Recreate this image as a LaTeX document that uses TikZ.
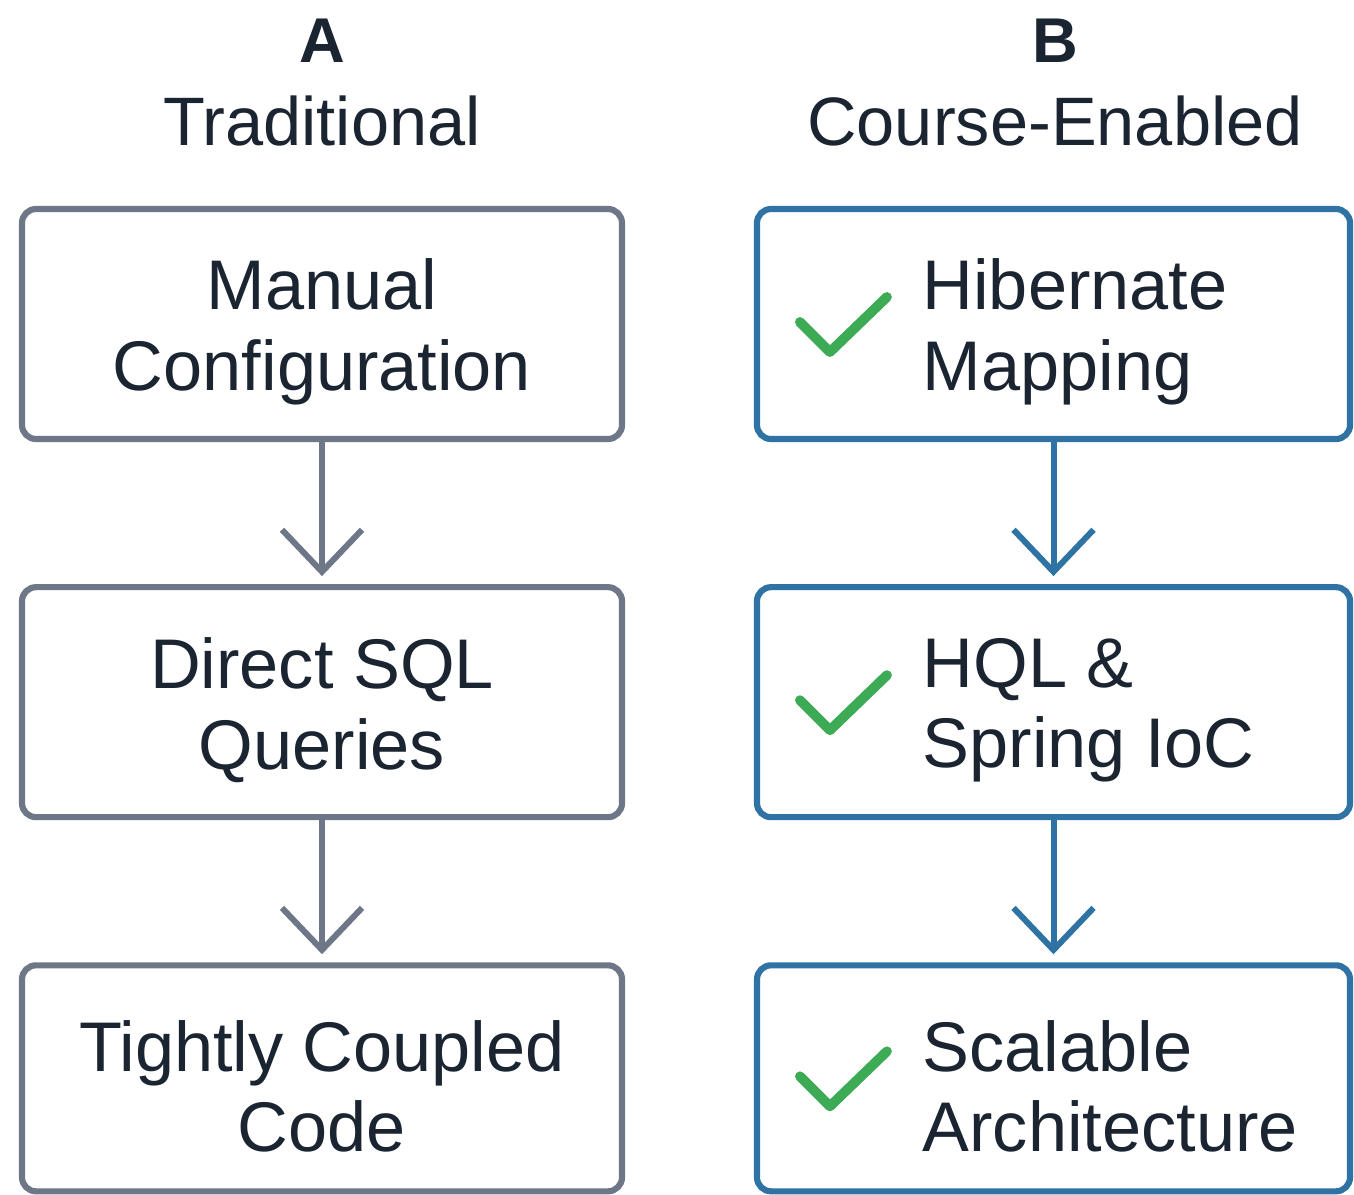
\documentclass[tikz,border=0pt]{standalone}
\usepackage{fontspec}
\setmainfont{Liberation Sans}
\usetikzlibrary{positioning}
\usetikzlibrary{arrows.meta}

\definecolor{tinta}{HTML}{1B2431}
\definecolor{grisA}{HTML}{6E7787}
\definecolor{azulB}{HTML}{2F72A4}
\definecolor{verde}{HTML}{3DAA55}

\begin{document}
\begin{tikzpicture}[
  caja/.style={draw, line width=1.75pt, rounded corners=0.14cm, fill=white, minimum height=2.3cm},
  cajaA/.style={caja, draw=grisA, minimum width=6cm},
  cajaB/.style={caja, draw=azulB, minimum width=5.93cm},
  texto/.style={text=tinta, align=left, inner sep=0pt, yshift=-0.08cm, font=\fontsize{20}{23}\selectfont},
  titulo/.style={text=tinta, anchor=base, inner sep=0pt, font=\fontsize{19.5}{22}\selectfont},
  letra/.style={text=tinta, anchor=base, inner sep=0pt, font=\fontsize{18}{20}\bfseries},
  flecha/.style={line width=1.7pt, -{Straight Barb[length=0.42cm, width=0.8cm]}, shorten >=0.08cm},
  check/.style={verde, line width=2.8pt, line cap=round, line join=round}
]

  \useasboundingbox[fill=white] (0,0) rectangle (13.54,-11.94); % Marco de la figura

  % Columna A
  \node[letra] (letA) at (3.22,-0.62) {A};
  \node[titulo] (titA) at (3.22,-1.45) {Traditional};
  \node[cajaA] (man) at (3.22,-3.24) {};
  \node[cajaA, below=1.42cm of man] (sql) {};
  \node[cajaA, below=1.42cm of sql, minimum height=2.26cm] (tight) {};

  \node[texto, align=center] (mantxt) at (man) {Manual\\Configuration};
  \node[texto, align=center] (sqltxt) at (sql) {Direct SQL\\Queries};
  \node[texto, align=center] (tighttxt) at (tight) {Tightly Coupled\\Code};

  \draw[flecha, grisA] (man) -- (sql); % Paso 1 a 2
  \draw[flecha, grisA] (sql) -- (tight); % Paso 2 a 3

  % Columna B
  \node[letra] (letB) at (10.55,-0.62) {B};
  \node[titulo] (titB) at (10.55,-1.45) {Course-Enabled};
  \node[cajaB] (hib) at (10.535,-3.24) {};
  \node[cajaB, below=1.42cm of hib] (hql) {};
  \node[cajaB, below=1.42cm of hql, minimum height=2.26cm] (scal) {};

  \node[texto, right=1.68cm of hib.west] (hibtxt) {Hibernate\\Mapping};
  \node[texto, right=1.68cm of hql.west] (hqltxt) {HQL \&\\Spring IoC};
  \node[texto, right=1.68cm of scal.west] (scaltxt) {Scalable\\Architecture};

  \draw[flecha, azulB] (hib) -- (hql); % Paso 1 a 2
  \draw[flecha, azulB] (hql) -- (scal); % Paso 2 a 3

  % Marcas de verificación
  \draw[check, shift={(hib.west)}] (0.46,0.02) -- (0.76,-0.28) -- (1.33,0.27);
  \draw[check, shift={(hql.west)}] (0.46,0.02) -- (0.76,-0.28) -- (1.33,0.27);
  \draw[check, shift={(scal.west)}] (0.46,0.02) -- (0.76,-0.28) -- (1.33,0.27);

\end{tikzpicture}
\end{document}
